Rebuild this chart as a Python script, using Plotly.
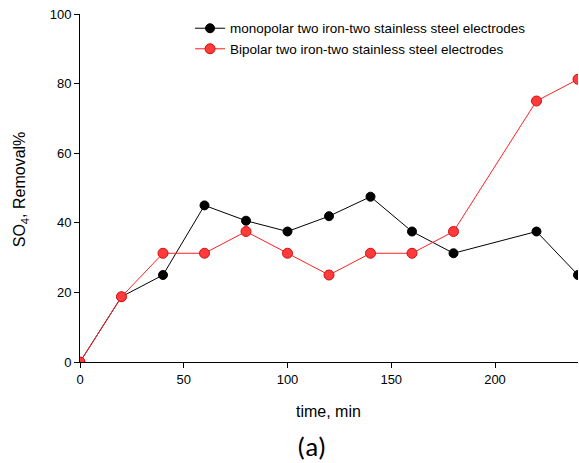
import plotly.graph_objects as go

time_min = [0, 20, 40, 60, 80, 100, 120, 140, 160, 180, 220, 240]
monopolar = [0, 18.75, 25, 45, 40.6, 37.5, 41.9, 47.5, 37.5, 31.25, 37.5, 25]
bipolar = [0, 18.75, 31.25, 31.25, 37.5, 31.25, 25, 31.25, 31.25, 37.5, 75, 81.25]

FONT = "Liberation Sans, Arial, sans-serif"

fig = go.Figure()
fig.add_trace(go.Scatter(
    x=time_min, y=monopolar, mode="lines+markers",
    name="monopolar two iron-two stainless steel electrodes",
    line=dict(color="black", width=1),
    marker=dict(color="black", size=9, line=dict(color="black", width=1)),
))
fig.add_trace(go.Scatter(
    x=time_min, y=bipolar, mode="lines+markers",
    name="Bipolar two iron-two stainless steel electrodes",
    line=dict(color="#ff2020", width=1),
    marker=dict(color="#ff3b3b", size=10, line=dict(color="#d01010", width=1)),
))

fig.update_layout(
    width=579, height=463,
    margin=dict(l=80, r=1, t=14, b=101),
    paper_bgcolor="white", plot_bgcolor="white",
    font=dict(family=FONT, size=13, color="black"),
    showlegend=True,
    legend=dict(x=0.221, y=1.003, xanchor="left", yanchor="top",
                bgcolor="rgba(0,0,0,0)", font=dict(size=13.5), itemwidth=30,
                tracegroupgap=0),
    xaxis=dict(range=[0, 240], tickvals=[0, 50, 100, 150, 200],
               showline=True, linecolor="black", linewidth=1,
               ticks="outside", ticklen=5, tickcolor="black",
               showgrid=False, zeroline=False, tickfont=dict(size=13)),
    yaxis=dict(range=[0, 100], tickvals=[0, 20, 40, 60, 80, 100],
               showline=True, linecolor="black", linewidth=1,
               ticks="outside", ticklen=5, tickcolor="black",
               showgrid=False, zeroline=False, tickfont=dict(size=13)),
    annotations=[
        dict(text="time, min", xref="paper", yref="paper", x=0.498, y=-0.141,
             showarrow=False, font=dict(size=16), xanchor="center", yanchor="middle"),
        dict(text="SO<sub>4</sub>, Removal%", xref="paper", yref="paper", x=-0.12, y=0.497,
             showarrow=False, font=dict(size=16), textangle=-90,
             xanchor="center", yanchor="middle"),
        dict(text="(a)", xref="paper", yref="paper", x=0.464, y=-0.244,
             showarrow=False, font=dict(size=27, family="Carlito, Noto Sans, DejaVu Sans"),
             xanchor="center", yanchor="middle"),
    ],
)

fig.write_html("out.html", config={"displayModeBar": False},
               post_script="document.body.style.margin='0';document.body.style.overflow='hidden';")
